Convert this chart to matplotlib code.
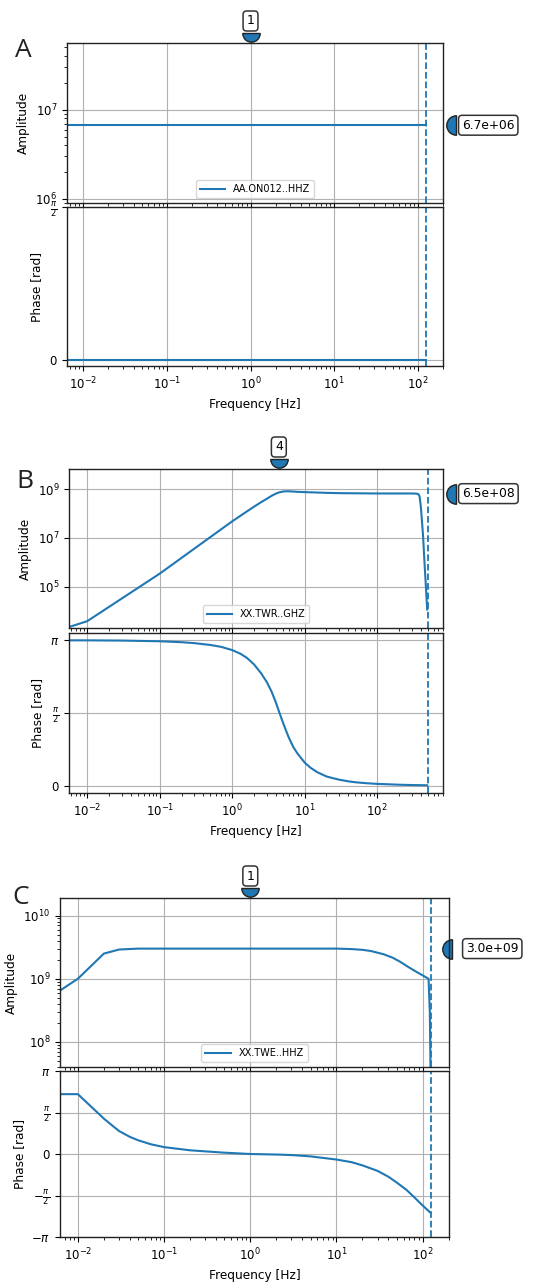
import numpy as np
import matplotlib
matplotlib.use('Agg')
import matplotlib.pyplot as plt
from matplotlib.path import Path
from matplotlib.transforms import offset_copy
from matplotlib.ticker import NullLocator

W, H = 544, 1286

# --- panel A : flat response
freq_a = [0.0064, 0.1, 1.0, 10.0, 125.0]
amp_a = [6.7e6, 6.7e6, 6.7e6, 6.7e6, 6.7e6]
phase_a = [0.0, 0.0, 0.0, 0.0, 0.0]

# --- panel B : geophone-like response
freq_b = [0.0056, 0.01, 0.1, 1.0, 1.5, 2.0, 2.5, 3.0, 3.5, 4.0, 4.5, 5.0, 5.5, 6.0,
          7.0, 8.0, 10.0, 20.0, 30.0, 100.0, 300.0, 350.0, 370.0, 385.0, 400.0,
          415.0, 430.0, 450.0, 470.0, 490.0]
amp_b = [2.3e3, 4.0e3, 3.5e5, 4.8e7, 1.08e8, 1.9e8, 2.9e8, 4.0e8, 5.3e8, 6.5e8,
         7.4e8, 7.9e8, 8.1e8, 8.1e8, 7.9e8, 7.7e8, 7.5e8, 7.0e8, 6.8e8, 6.6e8,
         6.6e8, 6.5e8, 6.2e8, 5.0e8, 2.0e8, 5.0e7, 1.2e7, 1.0e6, 1.1e5, 1.2e4]
ph_freq_b = [0.0056, 0.01, 0.03, 0.1, 0.2, 0.3, 0.5, 0.7, 1.0, 1.3, 1.6, 2.0, 2.5,
             3.0, 3.5, 4.0, 4.5, 5.0, 5.5, 6.0, 7.0, 8.0, 9.0, 10.0, 12.0, 15.0,
             20.0, 25.0, 30.0, 40.0, 50.0, 70.0, 100.0, 150.0, 200.0, 300.0, 490.0]
phase_b = [3.14, 3.14, 3.135, 3.12, 3.10, 3.08, 3.04, 3.00, 2.93, 2.85, 2.76, 2.62,
           2.43, 2.24, 2.03, 1.80, 1.57, 1.37, 1.20, 1.05, 0.83, 0.69, 0.59, 0.50,
           0.39, 0.29, 0.20, 0.16, 0.13, 0.095, 0.075, 0.055, 0.04, 0.03, 0.022,
           0.015, 0.01]

# --- panel C : broadband response
freq_c = [0.0062, 0.01, 0.02, 0.03, 0.05, 0.1, 1.0, 10.0, 15.0, 20.0, 25.0, 35.0,
          45.0, 55.0, 70.0, 85.0, 100.0, 117.0, 121.0, 124.0]
amp_c = [6.5e8, 1.0e9, 2.5e9, 2.9e9, 3.0e9, 3.0e9, 3.0e9, 3.0e9, 2.95e9, 2.87e9,
         2.75e9, 2.45e9, 2.15e9, 1.85e9, 1.5e9, 1.28e9, 1.13e9, 1.0e9, 3.0e8, 2.0e7]
ph_freq_c = [0.0062, 0.01, 0.02, 0.025, 0.03, 0.04, 0.05, 0.07, 0.1,
             0.2, 0.3, 0.5, 1.0, 2.0, 3.0, 5.0, 10.0, 15.0, 20.0, 30.0, 40.0, 50.0,
             65.0, 80.0, 100.0, 122.0]
phase_c = [2.265, 2.265, 1.34, 1.08, 0.87, 0.65, 0.52, 0.37, 0.26, 0.14,
           0.10, 0.05, 0.0, -0.02, -0.04, -0.09, -0.21, -0.31, -0.43, -0.64, -0.86,
           -1.08, -1.36, -1.64, -1.95, -2.21]

labels = ['AA.ON012..HHZ', 'XX.TWR..GHZ', 'XX.TWE..HHZ']
letters = ['A', 'B', 'C']
nyquist = [125.0, 500.0, 125.0]
corner = [1.0, 4.4, 1.0]
corner_txt = ['1', '4', '1']
level = [6.7e6, 6.5e8, 3.0e9]
level_txt = ['6.7e+06', '6.5e+08', '3.0e+09']

pi = np.pi
ph_ticks_all = [-pi, -pi / 2, 0, pi / 2, pi]
ph_labels_all = [r'$-\pi$', r'$-\frac{\pi}{2}$', r'$0$', r'$\frac{\pi}{2}$', r'$\pi$']

panels = [
    dict(f=freq_a, a=amp_a, pf=freq_a, p=phase_a,
         amp_px=(67, 43, 443, 203), ph_px=(67, 207, 443, 366),
         xlim=(0.0064, 200), ylim=(9e5, 5.6e7), plim=(-0.06, pi / 2),
         letter_xy=(15, 57), mk_off=13, box_off=19),
    dict(f=freq_b, a=amp_b, pf=ph_freq_b, p=phase_b,
         amp_px=(69, 469, 443, 628), ph_px=(69, 633, 443, 793),
         xlim=(0.0056, 810), ylim=(2.1e3, 6.6e9), plim=(-0.157, pi + 0.157),
         letter_xy=(16, 488), mk_off=13, box_off=19),
    dict(f=freq_c, a=amp_c, pf=ph_freq_c, p=phase_c,
         amp_px=(60, 898, 449, 1067), ph_px=(60, 1071, 449, 1237),
         xlim=(0.0062, 202), ylim=(4e7, 1.9e10), plim=(-pi, pi),
         letter_xy=(12, 904), mk_off=3, box_off=17),
]


def rect(l, t, r, b):
    return [l / W, 1 - b / H, (r - l) / W, (b - t) / H]


plt.rcParams['font.size'] = 8.7
plt.rcParams['xtick.labelsize'] = 8.5
plt.rcParams['ytick.labelsize'] = 8.5
blue = '#1f77b4'
edge = '#222222'
down_half = Path.wedge(180, 360)
left_half = Path.wedge(90, 270)
box = dict(boxstyle='round,pad=0.28', fc='white', ec='#333333', lw=1.1)

fig = plt.figure(figsize=(W / 100, H / 100), dpi=100)

for i, pn in enumerate(panels):
    ax1 = fig.add_axes(rect(*pn['amp_px']))
    ax2 = fig.add_axes(rect(*pn['ph_px']), sharex=ax1)

    ax1.loglog(pn['f'], pn['a'], color=blue, lw=1.5, label=labels[i])
    ax2.semilogx(pn['pf'], pn['p'], color=blue, lw=1.5)
    for ax in (ax1, ax2):
        ax.axvline(nyquist[i], color=blue, ls='--', lw=1.3)
        ax.grid(True, color='#b0b0b0', lw=0.8)
        for s in ax.spines.values():
            s.set_color('#222222')
            s.set_linewidth(1.0)

    ax1.set_xlim(*pn['xlim'])
    ax1.set_ylim(*pn['ylim'])
    if i == 1:
        ax1.set_yticks([1e5, 1e7, 1e9])
        ax1.yaxis.set_minor_locator(NullLocator())
    ax2.set_ylim(*pn['plim'])
    lo, hi = pn['plim']
    tk = [(t, l) for t, l in zip(ph_ticks_all, ph_labels_all) if lo - 1e-9 <= t <= hi + 1e-9]
    ax2.set_yticks([t for t, _ in tk])
    ax2.set_yticklabels([l for _, l in tk])

    plt.setp(ax1.get_xticklabels(), visible=False)
    ax1.set_ylabel('Amplitude')
    ax2.set_ylabel('Phase [rad]')
    ax2.set_xlabel('Frequency [Hz]')
    ax1.legend(loc='lower center', fontsize=7, handlelength=2.6)

    # corner frequency marker above the amplitude axes
    tr_top = offset_copy(ax1.get_xaxis_transform(), fig=fig, y=10, units='dots')
    ax1.plot([corner[i]], [1], marker=down_half, ms=12.5, color=blue, mec=edge,
             mew=1.0, transform=tr_top, clip_on=False)
    tr_txt = offset_copy(ax1.get_xaxis_transform(), fig=fig, y=22, units='dots')
    ax1.text(corner[i], 1, corner_txt[i], transform=tr_txt, ha='center', va='center',
             fontsize=9, bbox=box)

    # sensitivity marker on the right side
    tr_r = offset_copy(ax1.get_yaxis_transform(), fig=fig, x=pn['mk_off'], units='dots')
    ax1.plot([1], [level[i]], marker=left_half, ms=14, color=blue, mec=edge,
             mew=1.0, transform=tr_r, clip_on=False)
    tr_b = offset_copy(ax1.get_yaxis_transform(), fig=fig, x=pn['box_off'], units='dots')
    ax1.text(1, level[i], level_txt[i], transform=tr_b, ha='left', va='center',
             fontsize=8.8, bbox=box)

    lx, ly = pn['letter_xy']
    fig.text(lx / W, 1 - ly / H, letters[i], fontsize=19, family='Open Sans',
             va='baseline', ha='left', color='#222222')

fig.savefig('out.png', dpi=100)
